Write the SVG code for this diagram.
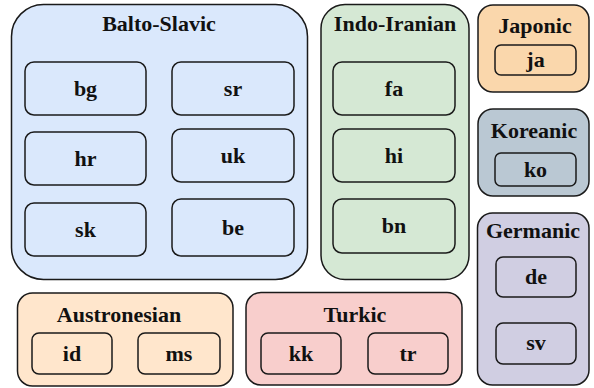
<svg xmlns="http://www.w3.org/2000/svg" width="594" height="388" viewBox="0 0 594 388">
<style>
rect{stroke:#1a1a1a;stroke-width:1.5}
text{font-family:"Liberation Serif","Times New Roman",serif;font-weight:bold;font-size:22px;text-anchor:middle;fill:#111}
.bs{fill:#dae8fc}.ii{fill:#d5e8d4}.jp{fill:#fad7ac}.ko{fill:#bac8d3}.ge{fill:#d0cee2}.au{fill:#ffe6cc}.tu{fill:#f8cecc}
</style>
<rect width="594" height="388" fill="#fff" style="stroke:none"/>
<g id="balto-slavic">
<rect class="bs" x="11.5" y="4.5" width="296" height="275" rx="32"/>
<text x="159" y="31">Balto-Slavic</text>
<g id="bg"><rect class="bs" x="25" y="62" width="121" height="53" rx="9"/><text x="85.5" y="96">bg</text></g>
<g id="sr"><rect class="bs" x="172" y="62" width="122" height="53" rx="9"/><text x="233" y="96">sr</text></g>
<g id="hr"><rect class="bs" x="25" y="132" width="121" height="53" rx="9"/><text x="85.5" y="166">hr</text></g>
<g id="uk"><rect class="bs" x="172" y="129" width="122" height="53" rx="9"/><text x="233" y="163">uk</text></g>
<g id="sk"><rect class="bs" x="25" y="203" width="121" height="53" rx="9"/><text x="85.5" y="237">sk</text></g>
<g id="be"><rect class="bs" x="172" y="199" width="122" height="57" rx="9"/><text x="233" y="235">be</text></g>
</g>
<g id="indo-iranian">
<rect class="ii" x="321" y="4.5" width="148" height="275" rx="24"/>
<text x="395" y="31">Indo-Iranian</text>
<g id="fa"><rect class="ii" x="333" y="62" width="122" height="53" rx="9"/><text x="394" y="96">fa</text></g>
<g id="hi"><rect class="ii" x="333" y="129" width="122" height="53" rx="9"/><text x="394" y="163">hi</text></g>
<g id="bn"><rect class="ii" x="333" y="199" width="122" height="54" rx="9"/><text x="394" y="233">bn</text></g>
</g>
<g id="japonic">
<rect class="jp" x="478" y="5" width="111" height="87" rx="15"/>
<text x="535" y="33">Japonic</text>
<g id="ja"><rect class="jp" x="495" y="45" width="81" height="30" rx="6"/><text x="535.5" y="67">ja</text></g>
</g>
<g id="koreanic">
<rect class="ko" x="478" y="109" width="111" height="87" rx="15"/>
<text x="534" y="138">Koreanic</text>
<g id="ko"><rect class="ko" x="495" y="153" width="81" height="33" rx="6"/><text x="535.5" y="177">ko</text></g>
</g>
<g id="germanic">
<rect class="ge" x="477.5" y="213" width="111.5" height="172" rx="15"/>
<text x="533" y="238">Germanic</text>
<g id="de"><rect class="ge" x="496" y="257" width="80" height="40" rx="7"/><text x="536" y="284">de</text></g>
<g id="sv"><rect class="ge" x="496" y="323" width="80" height="41" rx="7"/><text x="536" y="350">sv</text></g>
</g>
<g id="austronesian">
<rect class="au" x="17.5" y="293" width="215.5" height="93" rx="15"/>
<text x="119" y="322">Austronesian</text>
<g id="id"><rect class="au" x="32" y="333" width="80" height="41" rx="7"/><text x="72" y="361">id</text></g>
<g id="ms"><rect class="au" x="138" y="333" width="82" height="41" rx="7"/><text x="179" y="361">ms</text></g>
</g>
<g id="turkic">
<rect class="tu" x="246" y="292.5" width="216" height="92.5" rx="15"/>
<text x="355" y="322">Turkic</text>
<g id="kk"><rect class="tu" x="261" y="333" width="80" height="41" rx="7"/><text x="301" y="361">kk</text></g>
<g id="tr"><rect class="tu" x="368" y="333" width="80" height="41" rx="7"/><text x="408" y="361">tr</text></g>
</g>
<g id="connectors"/>
</svg>
